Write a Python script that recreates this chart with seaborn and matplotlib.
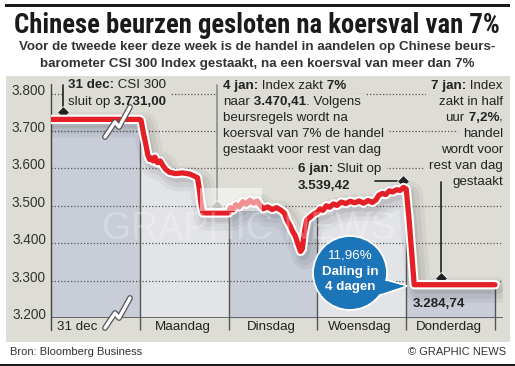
import matplotlib
matplotlib.use("Agg")
import matplotlib.pyplot as plt
import matplotlib.patheffects as pe
import matplotlib.transforms as mtransforms
from matplotlib.patches import Circle, Polygon, Rectangle
import numpy as np
import pandas as pd
import seaborn as sns

sns.set_theme(style="white")
plt.rcParams["font.family"] = ["Liberation Sans", "DejaVu Sans"]

# CSI 300 values, x = trading day (0 = 31 dec)
days = ["31 dec", "Maandag", "Dinsdag", "Woensdag", "Donderdag"]

t_dec31 = [0.0, 1.0]
v_dec31 = [3731, 3731]

t_jan4 = [1.0, 1.015, 1.04, 1.065, 1.09, 1.11, 1.13, 1.15, 1.17, 1.20, 1.23,
          1.26, 1.29, 1.33, 1.40, 1.48, 1.56, 1.61, 1.65, 1.67, 1.69, 1.71,
          1.80, 2.0]
v_jan4 = [3731, 3728, 3695, 3668, 3636, 3624, 3628, 3620, 3630, 3615, 3620,
          3608, 3598, 3590, 3586, 3588, 3585, 3580, 3575, 3545, 3505, 3481,
          3481, 3481]

t_jan5 = [2.0, 2.02, 2.05, 2.08, 2.12, 2.16, 2.20, 2.24, 2.28, 2.32, 2.36,
          2.39, 2.44, 2.49, 2.54, 2.59, 2.63, 2.66, 2.69, 2.72, 2.75, 2.78,
          2.81, 2.83, 2.85, 2.88, 2.92, 2.96, 3.0]
v_jan5 = [3481, 3495, 3489, 3503, 3497, 3511, 3504, 3515, 3507, 3513, 3500,
          3492, 3497, 3490, 3495, 3488, 3480, 3460, 3448, 3432, 3420, 3398,
          3378, 3385, 3425, 3462, 3470, 3478, 3483]

t_jan6 = [3.0, 3.03, 3.06, 3.10, 3.14, 3.18, 3.22, 3.27, 3.32, 3.37, 3.42,
          3.47, 3.52, 3.57, 3.62, 3.66, 3.69, 3.73, 3.77, 3.81, 3.85, 3.89,
          3.93, 3.97, 4.0]
v_jan6 = [3483, 3492, 3487, 3500, 3496, 3505, 3501, 3510, 3506, 3512, 3508,
          3513, 3507, 3514, 3509, 3516, 3528, 3533, 3530, 3540, 3537, 3543,
          3541, 3549, 3545]

t_jan7 = [4.0, 4.03, 4.06, 4.09, 5.0]
v_jan7 = [3545, 3470, 3380, 3289, 3289]

yticks = [3200, 3300, 3400, 3500, 3600, 3700, 3800]
ytick_labels = ["3.200", "3.300", "3.400", "3.500", "3.600", "3.700", "3.800"]

# x positions of the annotated moments (31 dec, 4 jan, 6 jan, 7 jan)
anno_x = [0.135, 1.87, 3.964, 4.39]

df = pd.concat([
    pd.DataFrame({"t": t, "csi": v, "dag": d})
    for t, v, d in zip([t_dec31, t_jan4, t_jan5, t_jan6, t_jan7],
                       [v_dec31, v_jan4, v_jan5, v_jan6, v_jan7], days)
], ignore_index=True)

BG = "#deddd5"
BANDS = ["#c8cdd8", "#e3e4e8"]
RED = "#e41f26"
BLUE = "#1c74b9"
DARK = "#222222"

W, H = 515, 366
fig = plt.figure(figsize=(W / 100, H / 100), dpi=100)
fig.patch.set_facecolor("white")
px = mtransforms.Affine2D().scale(1 / W, -1 / H).translate(0, 1) + fig.transFigure

fig.add_artist(Rectangle((6, 76), 504, 266, transform=px, fc=BG, ec="none", zorder=-1))
fig.add_artist(Rectangle((5, 3.5), 505, 3.5, transform=px, fc="#1a1a1a", ec="none"))
fig.add_artist(Rectangle((0, 363.5), 515, 2.5, transform=px, fc="#1a1a1a", ec="none"))

ax = fig.add_axes([51 / W, 48 / H, 452 / W, 242 / H])
ax.set_facecolor(BG)
ax.set_xlim(0, 452 / 88.8)
ax.set_ylim(3200, 3847)
for s in ax.spines.values():
    s.set_visible(False)

# day bands under the line
t_all = df["t"].to_numpy()
v_all = df["csi"].to_numpy()
for i, d in enumerate(days):
    sub = df[df["dag"] == d]
    ax.fill_between(sub["t"], 3200, sub["csi"], color=BANDS[i % 2], lw=0, zorder=1)

# dotted grid
for yv in yticks[1:]:
    ax.axhline(yv, color="#555555", lw=0.9, ls=(0, (1, 1.6)), zorder=1.5)
ax.axhline(3200, color="#444444", lw=1.1, zorder=1.6)
ax.axvline(0, ymin=-0.05, ymax=0.965, color="#444444", lw=1, zorder=1.6, clip_on=False)
for i in range(1, 6):
    top = np.interp(i, t_all, v_all)
    ax.vlines(i, 3168, top, color="#555555", lw=1, zorder=1.8, clip_on=False)

ax.set_xticks([])
ax.set_yticks(yticks, labels=ytick_labels)
ax.tick_params(axis="y", length=0, pad=3.6, labelsize=9.8, labelcolor="#333333")
for lab in ax.get_yticklabels():
    lab.set_transform(lab.get_transform() + mtransforms.ScaledTranslation(0, 0.045, fig.dpi_scale_trans))

for i, d in enumerate(days):
    if i == 0:
        ax.text(0.068, -0.037, d, transform=ax.get_xaxis_transform(), ha="left", va="center",
                fontsize=9.6, color=DARK, clip_on=False)
    else:
        ax.text(i + 0.48, -0.037, d, transform=ax.get_xaxis_transform(), ha="center", va="center",
                fontsize=9.6, color=DARK, clip_on=False)

# the index line
sns.lineplot(data=df, x="t", y="csi", estimator=None, sort=False, color=RED, lw=3.8,
             ax=ax, zorder=4, legend=False)
line = ax.lines[-1]
line.set_solid_capstyle("round")
line.set_solid_joinstyle("round")
line.set_path_effects([
    pe.SimpleLineShadow(offset=(3, -4), shadow_color="k", alpha=0.05, linewidth=18),
    pe.SimpleLineShadow(offset=(3, -4), shadow_color="k", alpha=0.06, linewidth=12),
    pe.SimpleLineShadow(offset=(2, -3), shadow_color="k", alpha=0.08, linewidth=7),
    pe.Stroke(linewidth=6.8, foreground="white"),
    pe.Normal(),
])
ax.set_xlabel("")
ax.set_ylabel("")

# watermark
ax.add_patch(Rectangle((200, 188), 62, 23, transform=px, fc="white", ec="none", alpha=0.5, zorder=4.5))
ax.text(249, 229, "GRAPHIC NEWS", transform=px, ha="center", va="center", fontsize=27,
        color="white", alpha=0.25, zorder=4.6, clip_on=False)

# break marks
bolt_x = [-13, -3, 1, 12]
bolt_y = [15, 0, 5, -15]
for ay in (122, 313):
    ax.plot([118 + b for b in bolt_x], [ay + b for b in bolt_y], transform=px, color="white", lw=2.4,
            zorder=5, clip_on=False,
            path_effects=[pe.Stroke(linewidth=4.2, foreground="#555555"), pe.Normal()])

# markers and leader lines
dia_v = np.interp(anno_x, t_all, v_all) + 19
tops = [3824, 3824, None, 3563]
for k, (xa, dv) in enumerate(zip(anno_x, dia_v)):
    col = "#8c8c8c" if k == 1 else DARK
    if tops[k] is not None:
        ax.plot([xa, xa], [dv, tops[k]], color=col, lw=1.2, zorder=3)
    else:
        ax.plot([3.65, xa], [dv, dv], color=col, lw=1.2, zorder=3)
    ax.plot(xa, dv, marker="D", ms=6, color=col, mec="#f0f0f0", mew=0.6, zorder=3.5)

boxed_lines = []


def rich(x, y, parts, ha="left", size=9.6, color=DARK, box=True, z=2.5):
    kw = dict(fontsize=size, color=color, clip_on=False, zorder=z)
    order = parts if ha == "left" else parts[::-1]
    prev = None
    segs = []
    for s, bold in order:
        w = "bold" if bold else "normal"
        if prev is None:
            prev = ax.text(x, y, s, transform=px, ha=ha, va="baseline", fontweight=w, **kw)
        else:
            xy = (1, 0) if ha == "left" else (0, 0)
            prev = ax.annotate(s, xy=xy, xycoords=prev, ha=ha, va="bottom", fontweight=w, **kw)
        segs.append(prev)
    if box:
        boxed_lines.append(segs)


rich(68, 88, [("31 dec:", True), (" CSI 300", False)])
rich(68, 105, [("sluit op", False), (" 3.731,00", True)])

jan4 = [
    [("4 jan:", True), (" Index zakt", False), (" 7%", True)],
    [("naar", False), (" 3.470,41", True), (". Volgens", False)],
    [("beursregels wordt na", False)],
    [("koersval van 7% de handel", False)],
    [("gestaakt voor rest van dag", False)],
]
for j, parts in enumerate(jan4):
    rich(223, 89 + 16 * j, parts)

rich(298, 172, [("6 jan:", True), (" Sluit op", False)])
rich(298, 189, [("3.539,42", True)])

jan7 = [
    [("7 jan:", True), (" Index", False)],
    [("zakt in half", False)],
    [("uur", False), (" 7,2%", True), (",", False)],
    [("handel", False)],
    [("wordt voor", False)],
    [("rest van dag", False)],
    [("gestaakt", False)],
]
for j, parts in enumerate(jan7):
    rich(503, 89 + 16 * j, parts, ha="right")

rich(413, 307, [("3.284,74", True)], box=False, z=5)

# callout bubble
ax.add_patch(Polygon([(380, 278), (407, 286), (372, 298)], closed=True, transform=px,
                     fc=BLUE, ec="white", lw=1.3, zorder=6, clip_on=False))
ax.add_patch(Circle((350, 273), 37, transform=px, fc=BLUE, ec="white", lw=1.3, zorder=6.1, clip_on=False))
ax.add_patch(Polygon([(378, 279), (405, 286), (371, 297)], closed=True, transform=px,
                     fc=BLUE, ec="none", zorder=6.2, clip_on=False))
for txt, yb, wt in [("11,96%", 259, "normal"), ("Daling in", 275, "bold"), ("4 dagen", 290, "bold")]:
    ax.text(350, yb, txt, transform=px, ha="center", va="baseline", fontsize=9.6,
            fontweight=wt, color="white", zorder=7, clip_on=False)

# titles
title = fig.text(257, 33, "Chinese beurzen gesloten na koersval van 7%", transform=px,
                 ha="center", va="baseline", fontsize=22, fontweight="bold",
                 family=["Roboto Condensed", "Liberation Sans Narrow", "Open Sans Condensed",
                         "Liberation Sans"], color="#1a1a1a")
sub1 = fig.text(257, 50, "Voor de tweede keer deze week is de handel in aandelen op Chinese beurs-",
                transform=px, ha="center", va="baseline", fontsize=10, fontweight="bold", color="#333333")
sub2 = fig.text(257, 67, "barometer CSI 300 Index gestaakt, na een koersval van meer dan 7%",
                transform=px, ha="center", va="baseline", fontsize=10, fontweight="bold", color="#333333")

r = fig.canvas.get_renderer()
title.set_fontsize(title.get_fontsize() * 485 / title.get_window_extent(r).width)
f = sub1.get_fontsize() * 479 / sub1.get_window_extent(r).width
sub1.set_fontsize(f)
sub2.set_fontsize(f)

# beige boxes behind the annotation lines so the dotted grid stops at the text
for segs in boxed_lines:
    bb = mtransforms.Bbox.union([s.get_window_extent(r) for s in segs])
    ax.add_patch(Rectangle((bb.x0 - 5, bb.y0 - 2.5), bb.width + 10, bb.height + 5,
                           transform=mtransforms.IdentityTransform(), fc=BG, ec="none",
                           zorder=2.4, clip_on=False))

fig.text(10, 355, "Bron: Bloomberg Business", transform=px, ha="left", va="baseline",
         fontsize=8, color="#333333")
fig.text(506, 355, "© GRAPHIC NEWS", transform=px, ha="right", va="baseline",
         fontsize=8, color="#333333")

fig.savefig("out.png", dpi=100, facecolor="white")
